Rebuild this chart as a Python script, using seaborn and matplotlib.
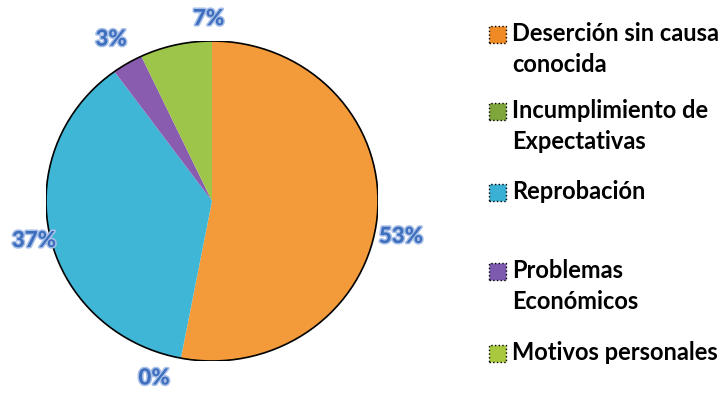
import matplotlib
matplotlib.use("Agg")
import matplotlib.pyplot as plt
import matplotlib.patheffects as pe
from matplotlib.patches import Rectangle, Ellipse
import numpy as np
import seaborn as sns

categories = ["Deserción sin causa\nconocida", "Incumplimiento de\nExpectativas",
              "Reprobación", "Problemas\nEconómicos", "Motivos personales"]
values = [53, 0, 37, 3, 7]
pct_labels = ["53%", "0%", "37%", "3%", "7%"]

slice_colors = ["#F39A3A", "#7FA63A", "#3FB6D6", "#8A5CB0", "#9CC54A"]
legend_colors = ["#F08A24", "#7FA63A", "#3AB0D4", "#7D5AAE", "#A8C83E"]

sns.set_theme(style="white")
plt.rcParams['font.family'] = ['Lato', 'DejaVu Sans']

fig = plt.figure(figsize=(7.25, 4.06), dpi=100)
W, H = 725, 406
cx, cy, rx, ry = 212, 202, 166, 160
ax = fig.add_axes([(cx - rx) / W, (H - cy - ry) / H, 2 * rx / W, 2 * ry / H])

wedges, _ = ax.pie(values, colors=slice_colors, startangle=90, counterclock=False,
                   radius=1.0, wedgeprops=dict(linewidth=0))
ax.add_patch(Ellipse((0, 0), 2.0, 2.0, fill=False, edgecolor="black", linewidth=1.2))
ax.set_xlim(-1, 1)
ax.set_ylim(-1, 1)
ax.set_aspect("auto")
ax.set_axis_off()

# label placement (angle in degrees, radial distance)
label_pos = [(-11, 1.16), (-107.5, 1.16), (193, 1.10), (121, 1.18), (91, 1.14)]
for txt, (ang, d) in zip(pct_labels, label_pos):
    t = np.deg2rad(ang)
    ax.text(d * np.cos(t), d * np.sin(t), txt, ha="center", va="center",
            fontsize=16, fontweight="black", color="#3E6EBE", clip_on=False,
            path_effects=[pe.withStroke(linewidth=2.2, foreground="#A9C1E8")])

# legend, manually laid out in equal slots
slot_top = [35, 112, 193, 272, 354]
for lab, col, yt in zip(categories, legend_colors, slot_top):
    fig.patches.append(Rectangle((489 / W, 1 - (yt + 9) / H), 17 / W, 17 / H,
                                 transform=fig.transFigure, facecolor=col,
                                 edgecolor="black", linewidth=1.0, linestyle=":"))
    fig.text(512 / W, 1 - (yt - 13) / H, lab, ha="left", va="top",
             fontsize=17, fontweight="bold", color="black", linespacing=1.42)

fig.savefig("out.png", dpi=100, facecolor="white")
